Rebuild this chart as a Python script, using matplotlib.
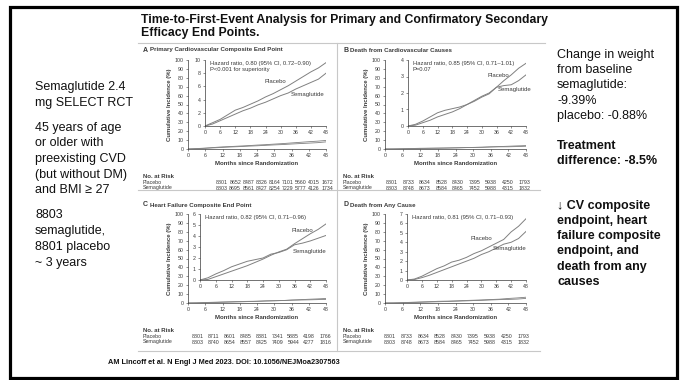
import matplotlib
matplotlib.use("Agg")
import matplotlib.pyplot as plt
from matplotlib.patches import Rectangle
from matplotlib.lines import Line2D

plt.rcParams['font.family'] = ['Liberation Sans', 'DejaVu Sans']

# ---------------- data ----------------
months = [0, 3, 6, 9, 12, 15, 18, 21, 24, 27, 30, 33, 36, 39, 42, 45, 48]

a_placebo = [0, 0.5, 1.0, 1.7, 2.4, 2.8, 3.3, 3.8, 4.4, 4.9, 5.5, 6.1, 6.8, 7.5, 8.2, 8.8, 9.6]
a_sema = [0, 0.3, 0.8, 1.3, 1.8, 2.3, 2.7, 3.2, 3.6, 4.1, 4.6, 5.0, 5.6, 6.1, 6.6, 7.1, 8.0]

b_placebo = [0, 0.05, 0.2, 0.35, 0.55, 0.7, 0.85, 1.05, 1.3, 1.55, 1.8, 2.0, 2.35, 2.75, 3.1, 3.5, 3.8]
b_sema = [0, 0.1, 0.3, 0.55, 0.8, 0.95, 1.05, 1.15, 1.3, 1.5, 1.75, 1.95, 2.35, 2.45, 2.5, 2.75, 3.1]

c_placebo = [0, 0.05, 0.3, 0.55, 0.8, 1.05, 1.3, 1.6, 1.9, 2.25, 2.55, 2.8, 3.3, 3.75, 4.2, 4.6, 5.1]
c_sema = [0, 0.2, 0.55, 0.85, 1.2, 1.45, 1.7, 1.85, 2.0, 2.35, 2.5, 2.75, 3.2, 3.35, 3.55, 3.8, 4.05]

d_placebo = [0, 0.1, 0.4, 0.8, 1.2, 1.5, 1.9, 2.1, 2.4, 2.8, 3.1, 3.5, 3.9, 4.3, 5.1, 5.7, 6.5]
d_sema = [0, 0.05, 0.25, 0.5, 0.8, 1.1, 1.4, 1.7, 2.0, 2.3, 2.7, 3.0, 3.4, 3.8, 4.0, 4.4, 5.15]

a_risk_placebo = [8801, 8652, 8487, 8326, 8164, 7101, 5660, 4015, 1672]
a_risk_sema = [8803, 8695, 8561, 8427, 8254, 7229, 5777, 4126, 1734]
b_risk_placebo = [8801, 8733, 8634, 8528, 8430, 7395, 5938, 4250, 1793]
b_risk_sema = [8803, 8748, 8673, 8584, 8465, 7452, 5988, 4315, 1832]
c_risk_placebo = [8801, 8711, 8601, 8485, 8381, 7341, 5885, 4198, 1766]
c_risk_sema = [8803, 8740, 8654, 8557, 8425, 7409, 5944, 4277, 1816]
d_risk_placebo = b_risk_placebo
d_risk_sema = b_risk_sema

panel_titles = ["Primary Cardiovascular Composite End Point",
                "Death from Cardiovascular Causes",
                "Heart Failure Composite End Point",
                "Death from Any Cause"]
panel_letters = ["A", "B", "C", "D"]
hazard_texts = ["Hazard ratio, 0.80 (95% CI, 0.72\u20130.90)\nP<0.001 for superiority",
                "Hazard ratio, 0.85 (95% CI, 0.71\u20131.01)\nP=0.07",
                "Hazard ratio, 0.82 (95% CI, 0.71\u20130.96)",
                "Hazard ratio, 0.81 (95% CI, 0.71\u20130.93)"]
inset_ymax = [10, 4, 6, 7]
inset_ystep = [2, 1, 1, 1]

# (placebo label month, y), (semaglutide label month, y)
label_pos = [((28.0, 6.7), (40.6, 4.7)),
             ((36.9, 3.05), (43.4, 2.2)),
             ((39.1, 4.5), (41.8, 2.6)),
             ((30.1, 4.45), (41.2, 3.3))]

title_lines = ["Time-to-First-Event Analysis for Primary and Confirmatory Secondary",
               "Efficacy End Points."]

# (text, bold) per line; None marks a paragraph gap
left_lines = ["Semaglutide 2.4", "mg SELECT RCT", None,
              "45 years of age", "or older with", "preexisting CVD",
              "(but without DM)", "and BMI \u2265 27", None,
              "8803", "semaglutide,", "8801 placebo", "~ 3 years"]
right_lines = [("Change in weight", False), ("from baseline", False),
               ("semaglutide:", False), ("-9.39%", False), ("placebo: -0.88%", False),
               None,
               ("Treatment", True), ("difference: -8.5%", True),
               None, None,
               ("\u2193 CV composite", True), ("endpoint, heart", True),
               ("failure composite", True), ("endpoint, and", True),
               ("death from any", True), ("causes", True)]

# ---------------- figure ----------------
W, H = 683, 380
fig = plt.figure(figsize=(W / 100, H / 100), dpi=100)
fig.patch.set_facecolor("white")


def fx(x):
    return x / W


def fy(y):
    return 1 - y / H


def ax_px(x0, y0, x1, y1):
    return fig.add_axes([fx(x0), fy(y1), (x1 - x0) / W, (y1 - y0) / H])


def ftext(x, y, s, **kw):
    return fig.text(fx(x), fy(y), s, **kw)


# slide border
fig.patches.append(Rectangle((fx(9.5), fy(377.5)), (676.5 - 9.5) / W, (377.5 - 6.5) / H,
                             transform=fig.transFigure, fill=False,
                             edgecolor="black", linewidth=2.3))

# title
for k, line in enumerate(title_lines):
    ftext(141, 20 + 13 * k, line, fontsize=8.8, fontweight="bold", va="center",
          ha="left", color="#111111")

# side texts, one line at a time
side_fs = 9.0
step = 15.7
y = 87
for line in left_lines:
    if line is not None:
        ftext(35, y, line, fontsize=side_fs, va="center", ha="left", color="#111111")
    y += step if line is not None else 9.3

y = 55
for item in right_lines:
    if item is None:
        y += 14.8
        continue
    line, bold = item
    ftext(557, y, line, fontsize=side_fs, va="center", ha="left", color="#111111",
          fontweight="bold" if bold else "normal")
    y += 15.2

# citation
ftext(108, 363, "AM Lincoff et al. N Engl J Med 2023. DOI: 10.1056/NEJMoa2307563",
      fontsize=5.3, fontweight="bold", va="center", ha="left", color="#111111")

# frame of the figure panels
frame_col = "#c8c8c8"
for (x0, y0, x1, y1) in [(138, 43, 545, 43), (138, 351, 540, 351),
                         (337, 43, 337, 351), (138, 190, 540, 190)]:
    fig.add_artist(Line2D([fx(x0), fx(x1)], [fy(y0), fy(y1)], color=frame_col,
                          lw=0.8, transform=fig.transFigure))

txt = "#3a3a3a"
line_col = "#808080"

panels = [
    dict(ox=(188, 326), oy=(60, 149), ix=205, iy=(60, 126), tx=143, ty=50,
         risk=(a_risk_placebo, a_risk_sema), rx=(222, 327), ry=176,
         data=(a_placebo, a_sema)),
    dict(ox=(385, 526), oy=(60, 149), ix=408, iy=(60, 126), tx=343, ty=50,
         risk=(b_risk_placebo, b_risk_sema), rx=(392, 524), ry=176,
         data=(b_placebo, b_sema)),
    dict(ox=(188, 326), oy=(214, 303), ix=200, iy=(214, 280), tx=143, ty=205,
         risk=(c_risk_placebo, c_risk_sema), rx=(198, 325), ry=330,
         data=(c_placebo, c_sema)),
    dict(ox=(385, 526), oy=(214, 303), ix=407, iy=(214, 280), tx=343, ty=205,
         risk=(d_risk_placebo, d_risk_sema), rx=(390, 523), ry=330,
         data=(d_placebo, d_sema)),
]

tick_fs = 3.8
for i, p in enumerate(panels):
    placebo, sema = p["data"]

    # outer axes, full 0-100 % scale
    ax = ax_px(p["ox"][0], p["oy"][0], p["ox"][1], p["oy"][1])
    ax.plot(months, placebo, color=line_col, lw=0.6)
    ax.plot(months, sema, color=line_col, lw=0.6)
    ax.set_xlim(0, 48)
    ax.set_ylim(0, 100)
    ax.set_xticks(range(0, 49, 6))
    ax.set_yticks(range(0, 101, 10))
    for s in ["top", "right"]:
        ax.spines[s].set_visible(False)
    for s in ["left", "bottom"]:
        ax.spines[s].set_color(txt)
        ax.spines[s].set_linewidth(0.5)
    ax.tick_params(labelsize=tick_fs, colors=txt, length=1.5, width=0.4, pad=1.5)
    ax.set_xlabel("Months since Randomization", fontsize=4.3, fontweight="bold",
                  color=txt, labelpad=2)
    ax.set_ylabel("Cumulative Incidence (%)", fontsize=4.3, fontweight="bold",
                  color=txt, labelpad=2)
    ax.patch.set_alpha(0)

    # inset axes, zoomed scale
    ia = ax_px(p["ix"], p["iy"][0], p["ox"][1], p["iy"][1])
    ia.plot(months, placebo, color=line_col, lw=0.7)
    ia.plot(months, sema, color=line_col, lw=0.7)
    ia.set_xlim(0, 48)
    ia.set_ylim(0, inset_ymax[i])
    ia.set_xticks(range(0, 49, 6))
    ia.set_yticks(range(0, inset_ymax[i] + 1, inset_ystep[i]))
    for s in ["top", "right"]:
        ia.spines[s].set_visible(False)
    for s in ["left", "bottom"]:
        ia.spines[s].set_color(txt)
        ia.spines[s].set_linewidth(0.5)
    ia.tick_params(labelsize=tick_fs, colors=txt, length=1.5, width=0.4, pad=1.5)
    ia.patch.set_facecolor("white")
    (plx, ply), (slx, sly) = label_pos[i]
    ia.text(plx, ply, "Placebo", fontsize=4.3, color=txt, ha="center", va="center")
    ia.text(slx, sly, "Semaglutide", fontsize=4.3, color=txt, ha="center", va="center")
    ia.text(0.04, 0.98, hazard_texts[i], transform=ia.transAxes, fontsize=4.2,
            color=txt, ha="left", va="top", linespacing=1.25)

    # panel heading
    ftext(p["tx"], p["ty"], panel_letters[i], fontsize=5, fontweight="bold",
          color=txt, va="center", ha="left")
    ftext(p["tx"] + 7.5, p["ty"], panel_titles[i], fontsize=4.4, fontweight="bold",
          color=txt, va="center", ha="left")

    # number at risk table
    ftext(p["tx"], p["ry"], "No. at Risk", fontsize=4.3, fontweight="bold",
          color=txt, va="center", ha="left")
    x0, x1 = p["rx"]
    rp, rs = p["risk"]
    n = len(rp)
    for k in range(n):
        xx = x0 + (x1 - x0) * k / (n - 1)
        ftext(xx, p["ry"] + 6.5, str(rp[k]), fontsize=tick_fs, color=txt,
              va="center", ha="center")
        ftext(xx, p["ry"] + 12, str(rs[k]), fontsize=tick_fs, color=txt,
              va="center", ha="center")
    ftext(p["tx"], p["ry"] + 6.5, "Placebo", fontsize=tick_fs, color=txt,
          va="center", ha="left")
    ftext(p["tx"], p["ry"] + 12, "Semaglutide", fontsize=tick_fs, color=txt,
          va="center", ha="left")

fig.savefig("out.png", dpi=100)
